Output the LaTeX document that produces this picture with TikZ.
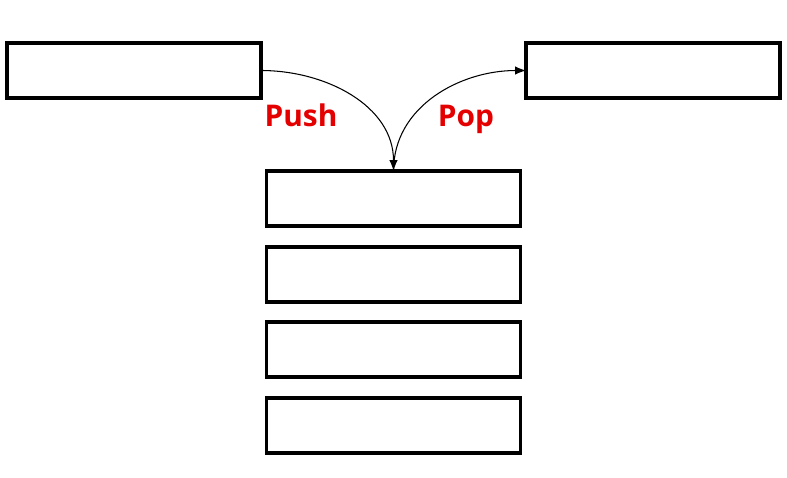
\documentclass[tikz,border=0pt]{standalone}
\usepackage{fontspec}
\setsansfont{Open Sans}
\usetikzlibrary{arrows.meta}
\definecolor{opred}{RGB}{228,0,0}
\tikzset{
  cell/.style={draw, line width=1.8pt, minimum width=5.08cm, minimum height=1.1cm, inner sep=0pt, outer sep=0pt},
  oplabel/.style={text=opred, font=\sffamily\bfseries\fontsize{17}{20}\selectfont, anchor=base}
}
\begin{document}
\begin{tikzpicture}[>={Latex[length=2.2mm, width=1.7mm]}, x=0.02cm, y=-0.02cm]
\useasboundingbox (0,0) rectangle (787,477);
\node[cell](src) at (134,70.5){};
\node[cell](dst) at (653,70.5){};
\node[cell](s1) at (393.5,198.5){};
\node[cell](s2) at (393.5,274.5){};
\node[cell](s3) at (393.5,349.5){};
\node[cell](s4) at (393.5,425.5){};
\draw[->, line width=0.6pt](src.east) to[out=0, in=90] (s1.north);
\draw[->, line width=0.6pt](s1.north) to[out=90, in=180] (dst.west);
\node[oplabel](push) at (301,126){Push};
\node[oplabel](pop) at (466,126){Pop};
\end{tikzpicture}
\end{document}
